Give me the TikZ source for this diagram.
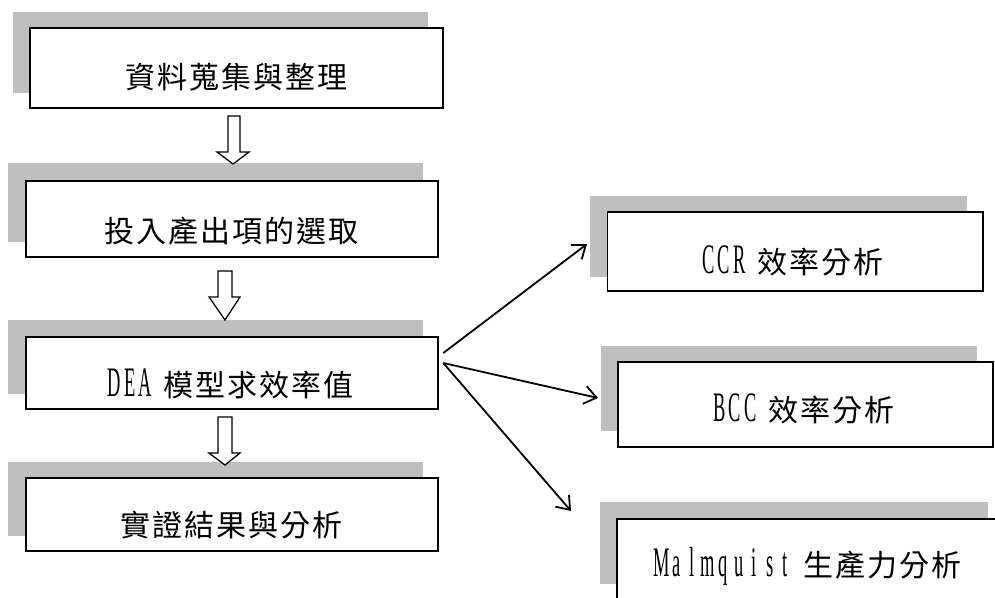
\documentclass[tikz,border=0pt]{standalone}
\usepackage{fontspec}
\setmainfont{Noto Sans CJK TC}
\newfontfamily\latinf[FakeStretch=0.44]{Liberation Serif}
\usetikzlibrary{arrows.meta,calc}
\makeatletter
\newcommand\cjs[1]{\@tfor\cjch:=#1\do{\makebox[32pt]{\cjch}}}
\newcommand\lts[1]{{\latinf\fontsize{42pt}{44pt}\selectfont\@tfor\ltch:=#1\do{\makebox[15.5pt]{\ltch}}}}
\makeatother
\definecolor{shadowgray}{HTML}{BFBFBF}
\begin{document}
\begin{tikzpicture}[x=1pt,y=-1pt,
  shadowbox/.style={fill=shadowgray,draw=none},
  mainbox/.style={draw=black,line width=1.6pt,fill=white,inner sep=0pt},
  txt/.style={anchor=base,inner sep=0pt,font=\fontsize{30pt}{32pt}\selectfont},
  hollow/.style={draw=black,line width=1.3pt,fill=white,line join=miter},
  conn/.style={draw=black,line width=1.8pt,-{Straight Barb[length=12pt,width=18pt,line width=1.8pt]}}]
\useasboundingbox (0,0) rectangle (995,597);
\clip (0,0) rectangle (995,597);
% ---- shadows
\fill[shadowgray] (13,12) rectangle (428,93);
\fill[shadowgray] (8,163) rectangle (423,242);
\fill[shadowgray] (8,320) rectangle (423,394);
\fill[shadowgray] (8,462) rectangle (423,536);
\fill[shadowgray] (590,196) rectangle (967,277);
\fill[shadowgray] (601,346) rectangle (977,431);
\fill[shadowgray] (600,502) rectangle (988,584);
% ---- boxes
\node[mainbox,minimum width=413pt,minimum height=80pt] (b1) at (236.5,68) {};
\node[mainbox,minimum width=412pt,minimum height=76pt] (b2) at (232,219) {};
\node[mainbox,minimum width=412pt,minimum height=72pt] (b3) at (232,373) {};
\node[mainbox,minimum width=412pt,minimum height=73pt] (b4) at (232,514.5) {};
\node[mainbox,minimum width=375.5pt,minimum height=79pt] (c1) at (795.25,251.5) {};
\node[mainbox,minimum width=375pt,minimum height=85pt] (c2) at (805.5,404.5) {};
\node[mainbox,minimum width=387pt,minimum height=81pt] (c3) at (810.5,559.5) {};
% ---- texts
\node[txt] (t1) at (236.5,88.3) {\cjs{資料蒐集與整理}};
\node[txt] (t2) at (231.5,242.3) {\cjs{投入產出項的選取}};
\node[txt] (t3) at (230.5,396.3) {\lts{DEA}\hspace{9pt}\cjs{模型求效率值}};
\node[txt] (t4) at (231.5,536.3) {\cjs{實證結果與分析}};
\node[txt] (t5) at (792.5,273.3) {\lts{CCR}\hspace{9pt}\cjs{效率分析}};
\node[txt] (t6) at (803.5,421.3) {\lts{BCC}\hspace{9pt}\cjs{效率分析}};
\node[txt] (t7) at (808,576.3) {\lts{Malmquist}\hspace{9pt}\cjs{生產力分析}};
% ---- hollow block arrows
\draw[hollow] (228,116) -- (240,116) -- (240,152) -- (249,152) -- (233,164) -- (217,152) -- (228,152) -- cycle;
\draw[hollow] (218,271) -- (232,271) -- (232,297) -- (240,297) -- (225,320) -- (209,297) -- (218,297) -- cycle;
\draw[hollow] (218,417) -- (232,417) -- (232,453) -- (240,453) -- (225,465) -- (209,453) -- (218,453) -- cycle;
% ---- connectors
\coordinate (s1) at ($(b3.east)+(4.5,-20)$);
\coordinate (s2) at ($(b3.east)+(4.5,-10)$);
\coordinate (e1) at (587,244);
\coordinate (e2) at (598,398);
\coordinate (e3) at (571,511);
\draw[conn] (s1) -- (e1);
\draw[conn] (s2) -- (e2);
\draw[conn] (s2) -- (e3);
\end{tikzpicture}
\end{document}
